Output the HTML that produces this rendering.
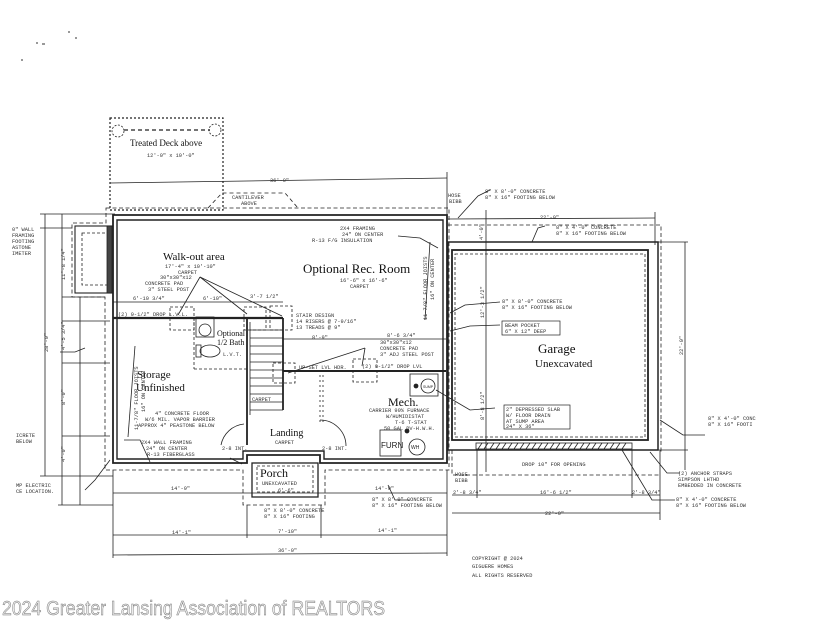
<!DOCTYPE html>
<html><head><meta charset="utf-8"><style>
html,body{margin:0;padding:0;background:#fff;width:825px;height:637px;overflow:hidden}
svg{display:block}
text{font-family:"Liberation Sans",sans-serif;fill:#222}
.m{font-family:"Liberation Mono",monospace;font-size:5.3px;fill:#333}
.s{font-family:"Liberation Serif",serif;fill:#111}
</style></head><body>
<svg width="825" height="637" viewBox="0 0 825 637" xmlns="http://www.w3.org/2000/svg">
<g fill="none" stroke="#222" stroke-width="0.8">
<rect x="110" y="118" width="113" height="92" stroke-dasharray="2,2" stroke-width="1.2"/>
<line x1="124" y1="130" x2="210" y2="130" stroke-dasharray="4,3" stroke-width="1.2"/>
<circle cx="118" cy="131" r="6" stroke-dasharray="2,1.5"/>
<circle cx="215" cy="130" r="6" stroke-dasharray="2,1.5"/>
<line x1="110" y1="183" x2="447" y2="178"/>
<line x1="447" y1="172" x2="447" y2="215"/>
<path d="M208 208 L222 193 L285 193 L298 208" stroke-dasharray="4,3"/>
<path d="M106 208 H449 V470 H325 V505 H243 V470 H105 V297 H72 V223 H106 Z" stroke-dasharray="4,2.5"/>
<path d="M113 215 H447 V463 H320 V455 H247 V463 H113 Z" stroke-width="1.8"/>
<path d="M117 220 H443 V459 H324 V451 H243 V459 H117 Z" stroke-width="1.4"/>
<rect x="75" y="226" width="38" height="67" stroke-width="1.1"/>
<rect x="82" y="233" width="27" height="52" stroke-dasharray="3,2"/>
<rect x="107" y="226" width="5" height="67" fill="#444"/>
<rect x="252" y="463" width="66" height="34" stroke-width="1.3"/>
<rect x="257" y="466" width="56" height="26" stroke-dasharray="3,2"/>
<line x1="113" y1="318" x2="283" y2="318" stroke-width="2.2"/>
<line x1="283" y1="371" x2="446" y2="371" stroke-width="2"/>
<line x1="113" y1="302" x2="283" y2="302"/>
<line x1="283" y1="339" x2="446" y2="339"/>
<rect x="170" y="307" width="24" height="23" stroke-dasharray="3,2"/>
<rect x="244" y="307" width="22" height="23" stroke-dasharray="3,2"/>
<rect x="270" y="306" width="22" height="24" stroke-dasharray="3,2"/>
<rect x="273" y="363" width="22" height="20" stroke-dasharray="3,2"/>
<rect x="353" y="359" width="24" height="23" stroke-dasharray="3,2"/>
<line x1="200" y1="277" x2="178" y2="315"/><line x1="200" y1="277" x2="247" y2="314"/><line x1="200" y1="277" x2="282" y2="316"/>
<line x1="365" y1="348" x2="288" y2="373"/><line x1="365" y1="348" x2="362" y2="366"/>
<line x1="247" y1="318" x2="247" y2="445" stroke-width="1.8"/>
<line x1="283" y1="318" x2="283" y2="410" stroke-width="1.8"/>
<g stroke-width="0.7">
<line x1="250" y1="330" x2="283" y2="330"/><line x1="250" y1="338" x2="283" y2="338"/><line x1="250" y1="346" x2="283" y2="346"/><line x1="250" y1="354" x2="283" y2="354"/><line x1="250" y1="362" x2="283" y2="362"/><line x1="250" y1="370" x2="283" y2="370"/><line x1="250" y1="378" x2="283" y2="378"/><line x1="250" y1="386" x2="283" y2="386"/><line x1="250" y1="394" x2="283" y2="394"/><line x1="250" y1="402" x2="283" y2="402"/><line x1="250" y1="410" x2="283" y2="410"/>
</g>
<line x1="250" y1="322" x2="250" y2="415"/>
<rect x="196" y="317" width="18" height="20"/><ellipse cx="205" cy="330" rx="6" ry="6"/>
<rect x="196" y="345" width="5" height="12"/><ellipse cx="210" cy="351" rx="10" ry="6"/>
<path d="M194 369 H247" stroke-dasharray="3,2"/><path d="M194 317 V369" stroke-dasharray="3,2"/>
<path d="M244 424 A26 26 0 0 0 221 445"/>
<path d="M320 420 A26 26 0 0 1 346 446"/>
<line x1="320" y1="375" x2="320" y2="425" stroke-dasharray="2,3"/>
<line x1="323" y1="375" x2="323" y2="425" stroke-dasharray="2,3"/>
<rect x="410" y="374" width="28" height="22"/>
<circle cx="428" cy="386" r="7"/>
<rect x="380" y="430" width="21" height="26"/>
<circle cx="417" cy="447" r="8"/>
<circle cx="416" cy="386" r="2" fill="#222"/><circle cx="407" cy="431" r="2" fill="#222"/>
<line x1="128" y1="437" x2="135" y2="346"/><line x1="425" y1="320" x2="430" y2="242"/>
<rect x="448" y="242" width="210" height="208" stroke-width="1.5"/>
<rect x="452" y="250" width="196" height="190" stroke-width="1.8"/>
<rect x="455" y="254" width="190" height="183" stroke-dasharray="3,2"/>
<path d="M448 225 H661 V453 M452 450 V475 H661" stroke-dasharray="4,2.5"/>
<rect x="476" y="443" width="156" height="6" stroke-width="0.8"/>
<path d="M478 449 l4 -6 M484 449 l4 -6 M490 449 l4 -6 M496 449 l4 -6 M502 449 l4 -6 M508 449 l4 -6 M514 449 l4 -6 M520 449 l4 -6 M526 449 l4 -6 M532 449 l4 -6 M538 449 l4 -6 M544 449 l4 -6 M550 449 l4 -6 M556 449 l4 -6 M562 449 l4 -6 M568 449 l4 -6 M574 449 l4 -6 M580 449 l4 -6 M586 449 l4 -6 M592 449 l4 -6 M598 449 l4 -6 M604 449 l4 -6 M610 449 l4 -6 M616 449 l4 -6 M622 449 l4 -6"/>
<line x1="448" y1="219" x2="655" y2="218"/><line x1="655" y1="212" x2="655" y2="245"/>
<line x1="486" y1="210" x2="486" y2="472"/>
<line x1="685" y1="242" x2="685" y2="470"/><line x1="658" y1="242" x2="688" y2="242"/><line x1="658" y1="450" x2="688" y2="450"/>
<line x1="452" y1="495" x2="660" y2="495"/><line x1="452" y1="513" x2="660" y2="513"/>
<line x1="477" y1="450" x2="477" y2="498"/><line x1="632" y1="450" x2="632" y2="498"/><line x1="660" y1="450" x2="660" y2="520"/>
<line x1="113" y1="493" x2="447" y2="493"/>
<line x1="113" y1="535" x2="447" y2="535"/>
<line x1="113" y1="555" x2="447" y2="553"/>
<line x1="113" y1="470" x2="113" y2="558"/><line x1="447" y1="470" x2="447" y2="556"/>
<line x1="247" y1="505" x2="247" y2="538"/><line x1="321" y1="505" x2="321" y2="538"/>
<line x1="45" y1="214" x2="45" y2="476"/><line x1="62" y1="214" x2="62" y2="505"/><line x1="80" y1="297" x2="80" y2="505"/>
<line x1="40" y1="214" x2="115" y2="214"/><line x1="40" y1="476" x2="113" y2="476"/><line x1="58" y1="505" x2="113" y2="505"/>
<line x1="62" y1="297" x2="105" y2="297"/><line x1="62" y1="321" x2="110" y2="321"/><line x1="62" y1="363" x2="110" y2="363"/><line x1="62" y1="436" x2="110" y2="436"/>
<line x1="40" y1="228" x2="72" y2="228"/>
<path d="M490 190 L478 196 L458 218"/><path d="M545 226 L538 228 L532 242"/>
<path d="M500 302 L465 305 L450 313"/><path d="M500 325 L470 326 L450 331"/>
<path d="M495 408 L470 410 L436 390"/><path d="M660 420 L683 435 L705 435"/>
<path d="M650 452 L667 473 L680 473"/><path d="M622 450 L652 500 L675 500"/>
<path d="M398 236 L420 238 L438 248"/><path d="M230 458 L242 464"/>
<path d="M388 485 L395 500 L410 500"/><path d="M110 460 L95 480 L85 490"/>
<path d="M85 348 L75 352 L60 352"/><path d="M150 462 L140 440 L124 440"/>
</g>
<text x="130" y="146" font-size="9" class="s">Treated Deck above</text>
<text x="147" y="157" class="m">12'-0" x 10'-0"</text>
<text x="270" y="182" class="m">36'-0"</text>
<text x="232" y="199" class="m">CANTILEVER</text><text x="241" y="205" class="m">ABOVE</text>
<text x="163" y="260" font-size="11" class="s">Walk-out area</text>
<text x="165" y="268" class="m">17'-4" x 10'-10"</text><text x="178" y="274" class="m">CARPET</text>
<text x="160" y="279" class="m">30"x30"x12</text><text x="145" y="285" class="m">CONCRETE PAD</text><text x="148" y="291" class="m">3" STEEL POST</text>
<text x="133" y="300" class="m">6'-10 3/4"</text><text x="203" y="300" class="m">6'-10"</text><text x="250" y="298" class="m">3'-7 1/2"</text>
<text x="118" y="316" class="m">(2) 9-1/2" DROP L.V.L.</text>
<text x="217" y="336" font-size="8" class="s">Optional</text><text x="217" y="345" font-size="8" class="s">1/2 Bath</text>
<text x="223" y="356" class="m">L.V.T.</text>
<text x="296" y="317" class="m">STAIR DESIGN</text><text x="296" y="323" class="m">14 RISERS @ 7-9/16"</text><text x="296" y="329" class="m">13 TREADS @ 9"</text>
<text x="303" y="273" font-size="13" class="s">Optional Rec. Room</text>
<text x="340" y="282" class="m">16'-6" x 16'-6"</text><text x="350" y="288" class="m">CARPET</text>
<text x="340" y="230" class="m">2X4 FRAMING</text><text x="342" y="236" class="m">24" ON CENTER</text><text x="312" y="242" class="m">R-13 F/G INSULATION</text>
<text x="312" y="339" class="m">8'-9"</text><text x="387" y="337" class="m">8'-6 3/4"</text>
<text x="380" y="344" class="m">30"x30"x12</text><text x="380" y="350" class="m">CONCRETE PAD</text><text x="380" y="356" class="m">3" ADJ STEEL POST</text>
<text x="299" y="369" class="m">UP-SET LVL HDR.</text><text x="362" y="368" class="m">(2) 9-1/2" DROP LVL</text>
<text x="137" y="378" font-size="11" class="s">Storage</text><text x="136" y="391" font-size="11" class="s">Unfinished</text>
<text x="155" y="415" class="m">4" CONCRETE FLOOR</text><text x="145" y="421" class="m">W/6 MIL. VAPOR BARRIER</text><text x="138" y="427" class="m">APPROX 4" PEASTONE BELOW</text>
<text x="141" y="444" class="m">2X4 WALL FRAMING</text><text x="146" y="450" class="m">24" ON CENTER</text><text x="147" y="456" class="m">R-13 FIBERGLASS</text>
<text x="222" y="450" class="m">2-8 INT.</text><text x="322" y="450" class="m">2-8 INT.</text>
<text x="270" y="436" font-size="10" class="s">Landing</text><text x="275" y="444" class="m">CARPET</text>
<text x="252" y="401" class="m">CARPET</text>
<text x="388" y="406" font-size="12" class="s">Mech.</text>
<text x="369" y="412" class="m">CARRIER 90% FURNACE</text><text x="386" y="418" class="m">W/HUMIDISTAT</text><text x="395" y="424" class="m">T-6 T-STAT</text><text x="384" y="430" class="m">50 GAL DV-H.W.H.</text>
<text x="381" y="448" font-size="8">FURN</text><text x="411" y="449" font-size="5">WH</text>
<text x="423" y="388" font-size="3.5">SUMP</text>
<text x="260" y="477" font-size="12" class="s">Porch</text><text x="262" y="485" class="m">UNEXCAVATED</text><text x="278" y="492" class="m">6'-6"</text>
<text x="171" y="490" class="m">14'-9"</text><text x="375" y="490" class="m">14'-9"</text>
<text x="264" y="512" class="m">8" X 8'-0" CONCRETE</text><text x="264" y="518" class="m">8" X 16" FOOTING</text>
<text x="372" y="501" class="m">8" X 8'-0" CONCRETE</text><text x="372" y="507" class="m">8" X 16" FOOTING BELOW</text>
<text x="172" y="534" class="m">14'-1"</text><text x="278" y="533" class="m">7'-10"</text><text x="378" y="532" class="m">14'-1"</text>
<text x="278" y="552" class="m">36'-0"</text>
<text x="472" y="560" class="m">COPYRIGHT @ 2024</text><text x="472" y="568" class="m">GIGUERE HOMES</text><text x="472" y="577" class="m">ALL RIGHTS RESERVED</text>
<text x="448" y="197" class="m">HOSE</text><text x="449" y="203" class="m">BIBB</text>
<text x="485" y="193" class="m">8" X 8'-0" CONCRETE</text><text x="485" y="199" class="m">8" X 16" FOOTING BELOW</text>
<text x="540" y="219" class="m">22'-0"</text>
<text x="556" y="229" class="m">8" X 4'-0" CONCRETE</text><text x="556" y="235" class="m">8" X 16" FOOTING BELOW</text>
<text x="502" y="303" class="m">8" X 8'-0" CONCRETE</text><text x="502" y="309" class="m">8" X 16" FOOTING BELOW</text>
<rect x="502" y="321" width="58" height="14" fill="none" stroke="#222" stroke-width="0.7"/>
<text x="505" y="327" class="m">BEAM POCKET</text><text x="505" y="333" class="m">6" X 12" DEEP</text>
<text x="538" y="353" font-size="13" class="s">Garage</text><text x="535" y="367" font-size="11" class="s">Unexcavated</text>
<rect x="504" y="405" width="66" height="24" fill="none" stroke="#222" stroke-width="0.7"/>
<text x="506" y="411" class="m">2" DEPRESSED SLAB</text><text x="506" y="417" class="m">W/ FLOOR DRAIN</text><text x="506" y="423" class="m">AT SUMP AREA</text><text x="506" y="428" class="m">24" X 36"</text>
<text x="522" y="466" class="m">DROP 10" FOR OPENING</text>
<text x="455" y="476" class="m">HOSE</text><text x="455" y="482" class="m">BIBB</text>
<text x="453" y="494" class="m">2'-8 3/4"</text><text x="540" y="494" class="m">16'-6 1/2"</text><text x="632" y="494" class="m">2'-8 3/4"</text>
<text x="545" y="515" class="m">22'-0"</text>
<text x="708" y="420" class="m">8" X 4'-0" CONC</text><text x="708" y="426" class="m">8" X 16" FOOTI</text>
<text x="678" y="475" class="m">(2) ANCHOR STRAPS</text><text x="678" y="481" class="m">SIMPSON LHTHD</text><text x="678" y="487" class="m">EMBEDDED IN CONCRETE</text>
<text x="676" y="501" class="m">8" X 4'-0" CONCRETE</text><text x="676" y="507" class="m">8" X 16" FOOTING BELOW</text>
<text x="12" y="231" class="m">0" WALL</text><text x="12" y="237" class="m">FRAMING</text><text x="12" y="243" class="m">FOOTING</text><text x="12" y="249" class="m">ASTONE</text><text x="12" y="255" class="m">IMETER</text>
<text x="16" y="437" class="m">ICRETE</text><text x="16" y="443" class="m">BELOW</text>
<text x="16" y="487" class="m">MP ELECTRIC</text><text x="16" y="493" class="m">CE LOCATION.</text>
<text class="m" transform="translate(48,352) rotate(-90)">28'-0"</text>
<text class="m" transform="translate(65,280) rotate(-90)">11'-8 1/4"</text>
<text class="m" transform="translate(65,350) rotate(-90)">4'-5 3/4"</text>
<text class="m" transform="translate(65,405) rotate(-90)">8'-0"</text>
<text class="m" transform="translate(65,462) rotate(-90)">4'-0"</text>
<text class="m" transform="translate(138,430) rotate(-90)">11-7/8" FLOOR JOISTS</text>
<text class="m" transform="translate(145,412) rotate(-90)">16" ON CENTER</text>
<text class="m" transform="translate(427,320) rotate(-90)">11-7/8" FLOOR JOISTS</text>
<text class="m" transform="translate(434,300) rotate(-90)">16" ON CENTER</text>
<text class="m" transform="translate(484,318) rotate(-90)">12'-3 1/2"</text>
<text class="m" transform="translate(484,420) rotate(-90)">8'-8 1/2"</text>
<text class="m" transform="translate(683,355) rotate(-90)">22'-0"</text>
<text class="m" transform="translate(483,240) rotate(-90)">4'-0"</text>
<text x="2" y="615" font-size="20" textLength="383" lengthAdjust="spacingAndGlyphs" style="fill:#ececec;stroke:#777;stroke-width:0.5;font-family:'Liberation Sans',sans-serif">2024 Greater Lansing Association of REALTORS</text>
<g fill="#999"><rect x="36" y="42" width="2" height="2"/><rect x="42" y="43" width="3" height="2"/><rect x="21" y="59" width="2" height="2"/><rect x="68" y="31" width="2" height="2"/><rect x="75" y="37" width="2" height="2"/></g>
</svg>
</body></html>
